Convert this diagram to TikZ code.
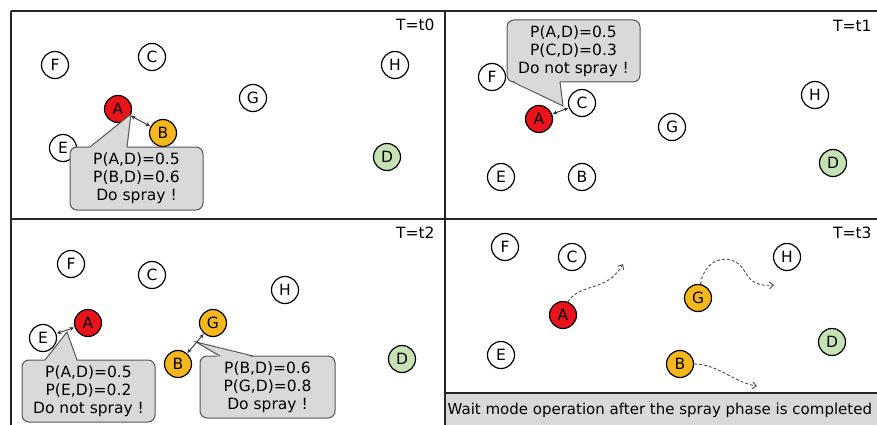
\documentclass[tikz,border=0pt]{standalone}
\usepackage{fontspec}
\setmainfont{DejaVu Sans}
\usetikzlibrary{arrows.meta}
\definecolor{nodered}{HTML}{E8131B}
\definecolor{nodeorange}{HTML}{F4B81C}
\definecolor{nodegreen}{HTML}{C6E2B5}
\definecolor{boxgray}{HTML}{D9D9D9}
\definecolor{boxline}{HTML}{555555}
\begin{document}
\begin{tikzpicture}[x=1pt,y=-1pt,
  every node/.style={font=\fontsize{15.5}{18}\selectfont},
  sensor/.style={circle,draw=black,line width=1.2pt,minimum size=27pt,inner sep=0pt,fill=white},
  redsensor/.style={sensor,fill=nodered},
  orsensor/.style={sensor,fill=nodeorange},
  grsensor/.style={sensor,fill=nodegreen},
  callbox/.style={draw=boxline,fill=boxgray,line width=1pt,rounded corners=7pt,align=center,inner sep=0pt},
  ptrfill/.style={fill=boxgray},
  ptrline/.style={draw=boxline,line width=1pt},
  link/.style={<->,>={Stealth[length=4.5pt,width=4pt]},line width=0.9pt,draw=black!80,shorten <=0.5pt,shorten >=0.5pt},
  move/.style={->,>={Straight Barb[length=4pt,width=7pt]},line width=0.9pt,draw=black!70,dash pattern=on 3pt off 2pt},
  frame/.style={line width=1.3pt,draw=black!85},
  tlabel/.style={anchor=east}
]
\useasboundingbox (0,0) rectangle (877,425);
\fill[white] (0,0) rectangle (877,425);

% ---------- bottom-right status box ----------
\fill[boxgray] (446,393) rectangle (877,425);
\draw[frame] (446,393) -- (877,393);
\node[anchor=west,inner sep=0pt,font=\fontsize{15}{18}\selectfont] (waittext) at (447.5,410) {Wait mode operation after the spray phase is completed};

% ---------- frame ----------
\draw[frame] (11,11) -- (877,11);
\draw[frame] (11,11) -- (11,425);
\draw[frame] (445,11) -- (445,425);
\draw[frame] (11,219) -- (877,219);

% ---------- time labels ----------
\node[tlabel] (T0) at (438,25) {T=t0};
\node[tlabel] (T1) at (875,26) {T=t1};
\node[tlabel] (T2) at (438,233) {T=t2};
\node[tlabel] (T3) at (875,233) {T=t3};

% ---------- panel t0 ----------
\node[sensor] (F0) at (55,65) {F};
\node[sensor] (C0) at (152,57) {C};
\node[sensor] (H0) at (395,65) {H};
\node[sensor] (G0) at (253,98) {G};
\node[redsensor] (A0) at (118,109) {A};
\node[orsensor] (B0) at (163,133) {B};
\node[sensor] (E0) at (63,148) {E};
\node[grsensor] (D0) at (387,157) {D};
\node[callbox,minimum width=133pt,minimum height=63pt] (cb0) at (136.5,178.5) {P(A,D)=0.5\\P(B,D)=0.6\\Do spray !};
\fill[ptrfill] (89,148.5) -- (131,114) -- (127,148.5) -- cycle;
\draw[ptrline] (90,147) -- (131,114) -- (127,147);
\draw[link] (A0) -- (B0);

% ---------- panel t1 ----------
\node[sensor] (F1) at (492,77) {F};
\node[sensor] (C1) at (582,103) {C};
\node[redsensor] (A1) at (539,119) {A};
\node[sensor] (G1) at (672,127) {G};
\node[sensor] (H1) at (815,95) {H};
\node[grsensor] (D1) at (833,163) {D};
\node[sensor] (E1) at (501,177) {E};
\node[sensor] (B1) at (582,177) {B};
\node[callbox,minimum width=133pt,minimum height=62pt] (cb1) at (573.5,51) {P(A,D)=0.5\\P(C,D)=0.3\\Do not spray !};
\fill[ptrfill] (513,80.5) -- (563,106) -- (560,80.5) -- cycle;
\draw[ptrline] (513,82) -- (563,106) -- (560,82);
\draw[link] (A1) -- (C1);

% ---------- panel t2 ----------
\node[sensor] (F2) at (71,264) {F};
\node[sensor] (C2) at (152,275) {C};
\node[sensor] (H2) at (285,290) {H};
\node[redsensor] (A2) at (88,323) {A};
\node[sensor] (E2) at (43,338) {E};
\node[orsensor] (G2) at (213,323) {G};
\node[orsensor] (B2) at (178,364) {B};
\node[grsensor] (D2) at (402,359) {D};
\node[callbox,minimum width=133pt,minimum height=62pt] (cb2) at (88.5,391) {P(A,D)=0.5\\P(E,D)=0.2\\Do not spray !};
\fill[ptrfill] (44,361.5) -- (67,332) -- (77,361.5) -- cycle;
\draw[ptrline] (45,360) -- (67,332) -- (77,360);
\node[callbox,minimum width=135pt,minimum height=62pt] (cb3) at (267.5,387) {P(B,D)=0.6\\P(G,D)=0.8\\Do spray !};
\fill[ptrfill] (219,357.5) -- (196,342) -- (254,357.5) -- cycle;
\draw[ptrline] (220,356) -- (196,342) -- (253,356);
\draw[link] (A2) -- (E2);
\draw[link] (G2) -- (B2);

% ---------- panel t3 ----------
\node[sensor] (F3) at (505,247) {F};
\node[sensor] (C3) at (572,257) {C};
\node[sensor] (H3) at (787,257) {H};
\node[orsensor] (G3) at (698,298) {G};
\node[redsensor] (A3) at (563,315) {A};
\node[grsensor] (D3) at (832,342) {D};
\node[sensor] (E3) at (501,355) {E};
\node[orsensor] (B3) at (680,364) {B};
\coordinate (A3to) at (623,264);
\coordinate (G3to) at (774,285);
\coordinate (B3to) at (757,386);
\draw[move] (A3.70) .. controls (581,282) and (606,293) .. (A3to);
\draw[move] (G3.80) .. controls (705,255) and (735,252) .. (745,272) .. controls (752,284) and (760,286) .. (G3to);
\draw[move] (B3.east) .. controls (718,364) and (735,383) .. (B3to);
\end{tikzpicture}
\end{document}
